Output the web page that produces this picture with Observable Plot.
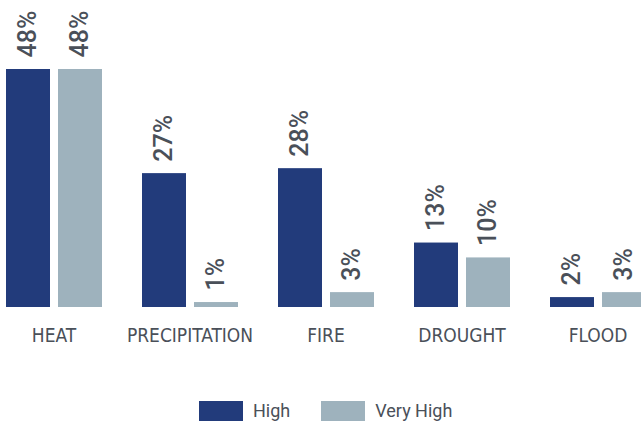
<!DOCTYPE html>
<html>
<head>
<meta charset="utf-8">
<script src="https://cdn.jsdelivr.net/npm/d3@7"></script>
<script src="https://cdn.jsdelivr.net/npm/@observablehq/plot@0.6"></script>
<style>
  body { margin: 0; background: #fff; }
  #chart { position: relative; width: 641px; height: 424px; overflow: hidden; font-family: Roboto, sans-serif; }
  .legend { position: absolute; left: 199px; top: 400px; display: flex; align-items: center; color: #4a5059; font-size: 18px; }
  .legend .item { display: flex; align-items: center; margin-right: 31px; }
  .legend .swatch { width: 44px; height: 20px; margin-right: 10px; }
</style>
</head>
<body>
<div id="chart"></div>
<script>
// Hazard categories and share of sites at each risk level (%)
const hazards = ["HEAT", "PRECIPITATION", "FIRE", "DROUGHT", "FLOOD"];
const levels = ["High", "Very High"];
const highShare = [48, 27, 28, 13, 2];
const veryHighShare = [48, 1, 3, 10, 3];
const levelColors = ["#223b7b", "#9eb2bd"];

const rows = hazards.flatMap((hazard, i) => [
  { hazard, level: levels[0], value: highShare[i] },
  { hazard, level: levels[1], value: veryHighShare[i] }
]);

const chart = Plot.plot({
  width: 641,
  height: 380,
  marginTop: 69,
  marginBottom: 73,
  marginLeft: 5,
  marginRight: -5,
  style: { fontFamily: "Roboto, sans-serif", background: "transparent" },
  fx: { domain: hazards, paddingInner: 0.29, paddingOuter: 0, label: null, axis: null },
  x: { domain: levels, paddingInner: 0.154, paddingOuter: 0, axis: null },
  y: { domain: [0, 48], axis: null },
  color: { domain: levels, range: levelColors },
  marks: [
    Plot.barY(rows, { fx: "hazard", x: "level", y: "value", fill: "level" }),
    Plot.text(rows, {
      fx: "hazard", x: "level", y: "value",
      text: d => `${d.value}%`,
      rotate: -90, textAnchor: "start", lineAnchor: "middle",
      dy: -12, dx: -1, fontSize: 25, fontWeight: 500, fill: "#4a5059"
    }),
    Plot.axisFx({
      anchor: "bottom", tickSize: 0, tickPadding: 21, label: null,
      fontSize: 19, fill: "#4a5059",
      fontFamily: "'Liberation Sans Narrow', 'DejaVu Sans Condensed', Roboto, sans-serif"
    })
  ]
});

const host = document.getElementById("chart");
host.appendChild(chart);

const legend = document.createElement("div");
legend.className = "legend";
levels.forEach((lvl, i) => {
  const item = document.createElement("div");
  item.className = "item";
  const sw = document.createElement("span");
  sw.className = "swatch";
  sw.style.background = levelColors[i];
  const label = document.createElement("span");
  label.textContent = lvl;
  item.append(sw, label);
  legend.appendChild(item);
});
host.appendChild(legend);
</script>
</body>
</html>
